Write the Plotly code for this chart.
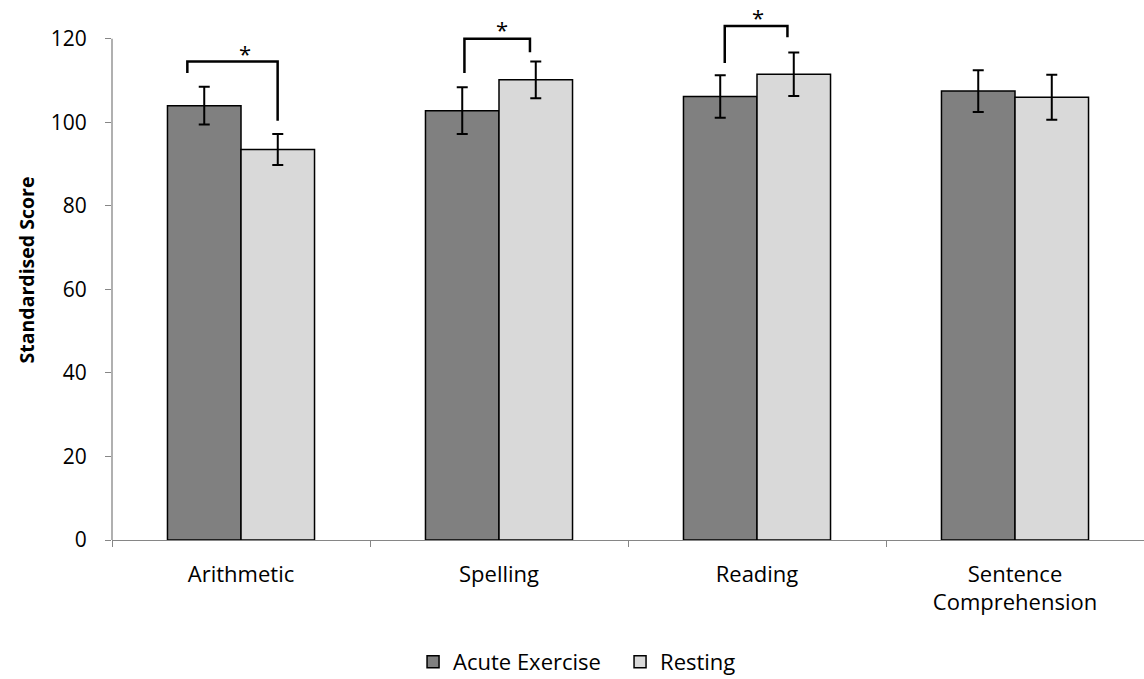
import plotly.graph_objects as go

categories = ["Arithmetic", "Spelling", "Reading", "Sentence<br>Comprehension"]
acute_values = [104.0, 102.8, 106.2, 107.5]
acute_errors = [4.5, 5.6, 5.1, 5.0]
resting_values = [93.5, 110.2, 111.5, 106.0]
resting_errors = [3.7, 4.4, 5.2, 5.4]

# significance brackets: category index, left/right offsets, top level, left/right leg ends
sig_index = [0, 1, 2]
sig_left = [-0.208, -0.134, -0.125]
sig_right = [0.142, 0.120, 0.118]
sig_top = [114.6, 120.0, 123.1]
sig_left_end = [111.8, 111.8, 114.2]
sig_right_end = [100.4, 116.8, 120.4]
star_offset = [0.014, 0.011, 0.003]
star_level = [116.6, 122.4, 125.2]

yticks = [0, 20, 40, 60, 80, 100, 120]

FONT = "Open Sans"
AXIS_GREY = "#868686"

fig = go.Figure()
fig.add_trace(go.Bar(
    name="Acute Exercise", x=categories, y=acute_values,
    marker=dict(color="#808080", line=dict(color="black", width=1.5)),
    error_y=dict(type="data", array=acute_errors, color="black", thickness=2, width=5.5),
))
fig.add_trace(go.Bar(
    name="Resting", x=categories, y=resting_values,
    marker=dict(color="#d9d9d9", line=dict(color="black", width=1.5)),
    error_y=dict(type="data", array=resting_errors, color="black", thickness=2, width=5.5),
))

shapes = []
# y axis line from 0 to 120 only
shapes.append(dict(type="line", xref="paper", yref="y", x0=0, x1=0, y0=0, y1=yticks[-1],
                   line=dict(color=AXIS_GREY, width=1.3)))
annotations = []
for i, l, r, t, le, re_, so, sl in zip(sig_index, sig_left, sig_right, sig_top,
                                        sig_left_end, sig_right_end, star_offset, star_level):
    path = f"M {i + l},{le} L {i + l},{t} L {i + r},{t} L {i + r},{re_}"
    shapes.append(dict(type="path", xref="x", yref="y", path=path,
                       line=dict(color="black", width=2.5)))
    annotations.append(dict(x=i + so, y=sl, xref="x", yref="y", text="*", showarrow=False,
                            font=dict(family=FONT, size=22, color="black"),
                            xanchor="center", yanchor="middle"))

fig.update_layout(
    width=1144, height=679,
    margin=dict(l=112, r=0, t=0, b=139),
    paper_bgcolor="white", plot_bgcolor="white",
    barmode="group", bargap=0.43, bargroupgap=0,
    font=dict(family=FONT, size=22, color="black"),
    showlegend=True,
    legend=dict(orientation="h", xref="container", yref="container",
                x=0.542, xanchor="center", y=0.025, yanchor="middle",
                entrywidth=162, entrywidthmode="pixels",
                font=dict(family=FONT, size=22, color="black")),
    shapes=shapes, annotations=annotations,
)
fig.update_xaxes(
    type="category", showline=True, linecolor=AXIS_GREY, linewidth=1.3,
    ticks="outside", tickson="boundaries", ticklen=6, tickcolor=AXIS_GREY, tickwidth=1.3,
    tickfont=dict(family=FONT, size=22, color="black"), showgrid=False,
    ticklabelstandoff=14,
)
fig.update_yaxes(
    range=[0, 129.3], tickvals=yticks, showline=False, showgrid=False, zeroline=False,
    ticks="outside", ticklen=6, tickcolor=AXIS_GREY, tickwidth=1.3,
    tickfont=dict(family=FONT, size=21, color="black"),
    ticklabelstandoff=14,
    title=dict(text="<b>Standardised Score</b>", font=dict(family=FONT, size=19.5, color="black"),
               standoff=10),
)

fig.write_html("out.html", config={"displayModeBar": False},
               post_script="document.body.style.margin='0px';")
